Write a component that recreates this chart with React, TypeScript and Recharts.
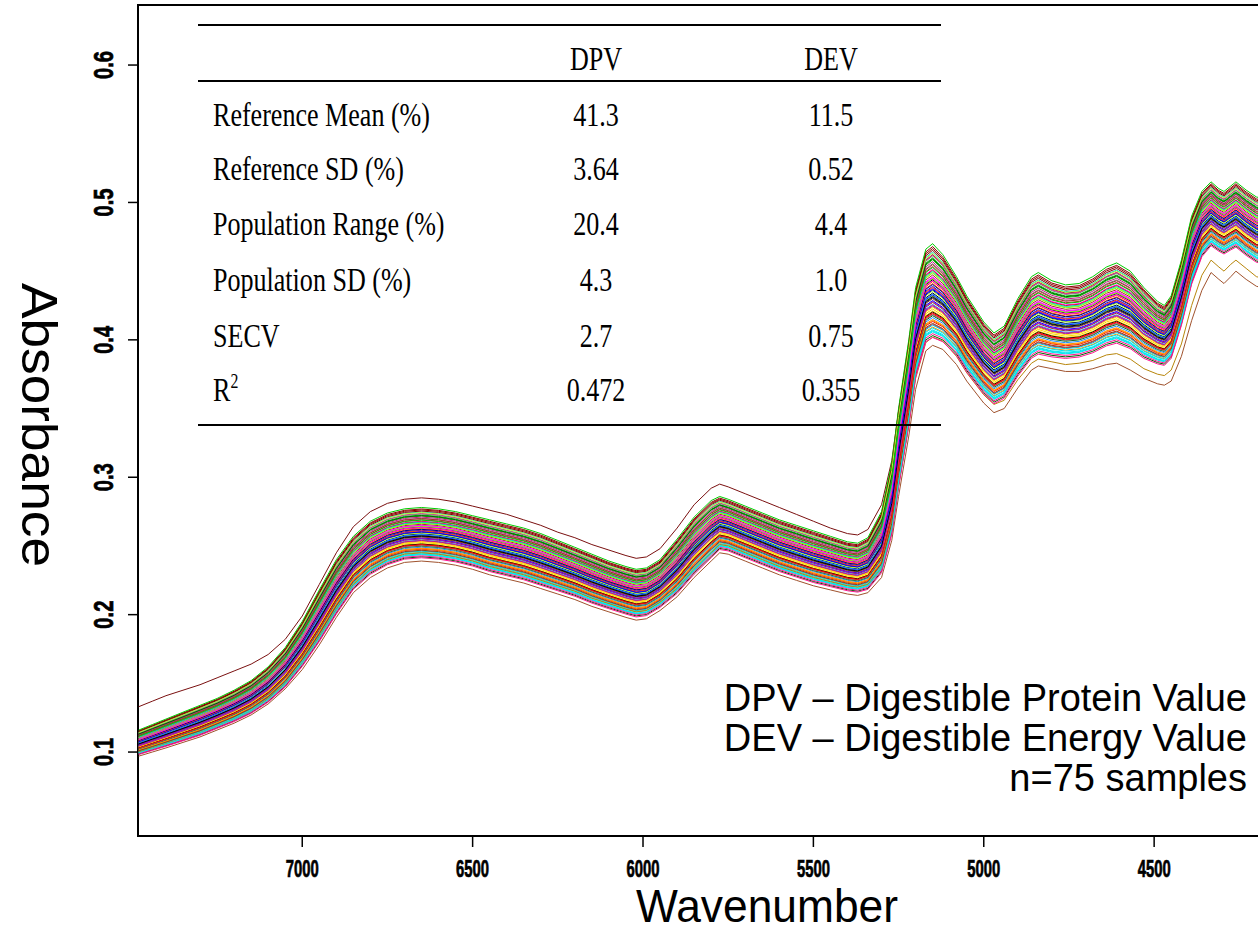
import React from "react";
import { LineChart, Line, XAxis, YAxis, ReferenceArea } from "recharts";

// Wavenumber grid (cm-1) shared by every spectrum
const wavenumbers = [
  7480, 7440, 7400, 7350, 7300, 7250, 7200, 7150, 7100, 7050,
  7000, 6950, 6900, 6850, 6800, 6750, 6700, 6650, 6600, 6550,
  6500, 6450, 6400, 6350, 6300, 6250, 6200, 6150, 6100, 6050,
  6020, 5990, 5950, 5900, 5850, 5800, 5775, 5750, 5700, 5650,
  5600, 5550, 5500, 5450, 5400, 5370, 5340, 5300, 5270, 5250,
  5220, 5200, 5170, 5150, 5120, 5080, 5050, 5000, 4970, 4940,
  4900, 4860, 4840, 4800, 4760, 4720, 4680, 4640, 4610, 4570,
  4530, 4490, 4470, 4450, 4420, 4390, 4360, 4333, 4310, 4295,
  4275, 4260, 4230, 4200, 4170,
];

// Upper edge of the main bundle of spectra
const bandTop = [
  0.116, 0.120, 0.124, 0.129, 0.134, 0.139, 0.145, 0.152, 0.162, 0.176,
  0.195, 0.218, 0.240, 0.257, 0.268, 0.274, 0.277, 0.278, 0.277, 0.275,
  0.272, 0.269, 0.266, 0.263, 0.259, 0.254, 0.249, 0.244, 0.239, 0.235,
  0.233, 0.234, 0.240, 0.255, 0.271, 0.283, 0.286, 0.284, 0.279, 0.274,
  0.269, 0.265, 0.261, 0.257, 0.253, 0.252, 0.256, 0.275, 0.310, 0.350,
  0.400, 0.438, 0.466, 0.470, 0.462, 0.446, 0.432, 0.413, 0.405, 0.410,
  0.430, 0.446, 0.449, 0.443, 0.440, 0.441, 0.446, 0.453, 0.456, 0.450,
  0.438, 0.428, 0.425, 0.432, 0.458, 0.490, 0.508, 0.515, 0.510, 0.508,
  0.512, 0.515, 0.509, 0.504, 0.502,
];

// Lower edge of the main bundle of spectra
const bandBottom = [
  0.098, 0.101, 0.104, 0.108, 0.112, 0.117, 0.122, 0.128, 0.136, 0.147,
  0.162, 0.180, 0.200, 0.218, 0.229, 0.236, 0.240, 0.241, 0.240, 0.238,
  0.235, 0.231, 0.228, 0.225, 0.221, 0.217, 0.213, 0.208, 0.204, 0.200,
  0.198, 0.199, 0.205, 0.215, 0.229, 0.241, 0.247, 0.246, 0.241, 0.236,
  0.231, 0.227, 0.223, 0.220, 0.217, 0.216, 0.218, 0.230, 0.258, 0.292,
  0.337, 0.372, 0.398, 0.401, 0.398, 0.388, 0.376, 0.360, 0.353, 0.357,
  0.373, 0.386, 0.389, 0.387, 0.386, 0.387, 0.390, 0.395, 0.397, 0.393,
  0.386, 0.382, 0.381, 0.386, 0.410, 0.440, 0.460, 0.468, 0.464, 0.462,
  0.465, 0.467, 0.461, 0.456, 0.454,
];

// Where each of the 72 regular samples sits inside the bundle (0 = lower edge, 1 = upper edge)
const bandPositions = [
  0.62, 0.18, 0.85, 0.40, 0.07, 0.73, 0.29, 0.95, 0.51, 0.12,
  0.67, 0.34, 0.88, 0.45, 0.22, 0.79, 0.03, 0.58, 0.38, 0.91,
  0.15, 0.70, 0.48, 0.26, 0.83, 0.55, 0.09, 0.64, 0.31, 0.97,
  0.43, 0.20, 0.76, 0.53, 0.05, 0.69, 0.36, 0.87, 0.24, 0.60,
  0.42, 0.14, 0.81, 0.50, 0.28, 0.72, 1.00, 0.46, 0.11, 0.65,
  0.33, 0.93, 0.57, 0.19, 0.78, 0.39, 0.01, 0.63, 0.47, 0.25,
  0.84, 0.54, 0.16, 0.71, 0.35, 0.90, 0.44, 0.27, 0.75, 0.52,
  0.08, 0.61,
];

// Sample lying above the bundle at the short-wavenumber end
const highSample = [
  0.133, 0.137, 0.141, 0.145, 0.149, 0.154, 0.159, 0.164, 0.171, 0.182,
  0.199, 0.222, 0.245, 0.264, 0.275, 0.281, 0.284, 0.285, 0.284, 0.282,
  0.279, 0.276, 0.273, 0.269, 0.265, 0.260, 0.256, 0.251, 0.247, 0.243,
  0.241, 0.242, 0.248, 0.263, 0.280, 0.292, 0.295, 0.293, 0.288, 0.283,
  0.278, 0.273, 0.268, 0.263, 0.259, 0.258, 0.262, 0.280, 0.312, 0.348,
  0.396, 0.432, 0.458, 0.462, 0.455, 0.440, 0.426, 0.407, 0.399, 0.404,
  0.423, 0.439, 0.442, 0.437, 0.434, 0.435, 0.440, 0.446, 0.449, 0.443,
  0.432, 0.422, 0.419, 0.426, 0.450, 0.481, 0.499, 0.506, 0.501, 0.499,
  0.503, 0.506, 0.500, 0.495, 0.493,
];

// Two samples dropping below the bundle past 5000 cm-1
const lowSampleA = [
  0.097, 0.100, 0.103, 0.107, 0.111, 0.116, 0.121, 0.127, 0.135, 0.146,
  0.160, 0.178, 0.198, 0.216, 0.227, 0.234, 0.238, 0.239, 0.238, 0.236,
  0.233, 0.229, 0.226, 0.223, 0.219, 0.215, 0.211, 0.206, 0.202, 0.198,
  0.196, 0.197, 0.203, 0.213, 0.227, 0.239, 0.245, 0.244, 0.239, 0.234,
  0.229, 0.225, 0.221, 0.218, 0.215, 0.214, 0.216, 0.227, 0.254, 0.286,
  0.330, 0.364, 0.392, 0.396, 0.393, 0.382, 0.370, 0.354, 0.347, 0.350,
  0.365, 0.378, 0.381, 0.379, 0.377, 0.377, 0.379, 0.382, 0.383, 0.378,
  0.372, 0.368, 0.367, 0.370, 0.388, 0.414, 0.436, 0.449, 0.444, 0.441,
  0.446, 0.450, 0.444, 0.439, 0.437,
];

const lowSampleB = [
  0.100, 0.103, 0.106, 0.110, 0.114, 0.119, 0.124, 0.130, 0.139, 0.150,
  0.165, 0.184, 0.204, 0.222, 0.233, 0.240, 0.244, 0.245, 0.244, 0.242,
  0.239, 0.235, 0.232, 0.229, 0.225, 0.221, 0.217, 0.212, 0.208, 0.204,
  0.202, 0.203, 0.209, 0.219, 0.233, 0.245, 0.251, 0.250, 0.245, 0.240,
  0.235, 0.231, 0.227, 0.224, 0.221, 0.220, 0.222, 0.234, 0.262, 0.295,
  0.338, 0.372, 0.398, 0.402, 0.399, 0.388, 0.376, 0.360, 0.353, 0.356,
  0.371, 0.383, 0.386, 0.384, 0.382, 0.383, 0.385, 0.389, 0.390, 0.386,
  0.379, 0.375, 0.374, 0.378, 0.397, 0.425, 0.447, 0.458, 0.453, 0.450,
  0.455, 0.458, 0.452, 0.446, 0.444,
];

const sampleColors = [
  "#000000", "#FF0000", "#00CD00", "#0000FF", "#00E5EE", "#FF00FF",
  "#FFD700", "#8B0000", "#000080", "#FF8C00", "#A52A2A", "#9400D3",
  "#FF1493", "#7CFC00", "#1E90FF", "#808080", "#006400", "#FF4500",
  "#8B4513", "#00CED1", "#C71585", "#ADFF2F",
];

const xTickValues = [7000, 6500, 6000, 5500, 5000, 4500];
const yTickValues = [0.1, 0.2, 0.3, 0.4, 0.5, 0.6];

const tableColumns = ["DPV", "DEV"];
const tableRowLabels = ["Reference Mean (%)", "Reference SD (%)", "Population Range (%)", "Population SD (%)", "SECV", "R2"];
const dpvStats = ["41.3", "3.64", "20.4", "4.3", "2.7", "0.472"];
const devStats = ["11.5", "0.52", "4.4", "1.0", "0.75", "0.355"];

const noteLines = ["DPV \u2013 Digestible Protein Value", "DEV \u2013 Digestible Energy Value", "n=75 samples"];

// Assemble the 75 spectra, with the three odd samples placed among the regular ones
const regularSpectra = bandPositions.map((p) =>
  bandBottom.map((b, k) => +(b + p * (bandTop[k] - b)).toFixed(4))
);
const spectra: { values: number[]; color: string }[] = [];
spectra.push({ values: highSample, color: "#7A1010" });
regularSpectra.forEach((vals, i) => {
  spectra.push({ values: vals, color: sampleColors[i % sampleColors.length] });
  if (i === 30) spectra.push({ values: lowSampleA, color: "#A0522D" });
  if (i === 55) spectra.push({ values: lowSampleB, color: "#B8860B" });
});

const chartData = wavenumbers.map((w, k) => {
  const row: Record<string, number> = { w };
  spectra.forEach((s, i) => {
    row[`s${i}`] = s.values[k];
  });
  return row;
});

const X_DOMAIN: [number, number] = [4160, 7482];
const Y_DOMAIN: [number, number] = [0.0389, 0.6437];

const XTick = (props: any) => {
  const { x, y, payload } = props;
  return (
    <text
      x={x}
      y={y + 28}
      textAnchor="middle"
      fontFamily="'Liberation Sans', Arial, sans-serif"
      fontWeight="bold"
      fontSize={23}
      textLength={33}
      lengthAdjust="spacingAndGlyphs"
      fill="#000"
      stroke="#000"
      strokeWidth={0.7}
    >
      {payload.value}
    </text>
  );
};

const YTick = (props: any) => {
  const { x, y, payload } = props;
  return (
    <text
      transform={`translate(${x - 13},${y}) rotate(-90)`}
      textAnchor="middle"
      fontFamily="'Liberation Sans', Arial, sans-serif"
      fontWeight="bold"
      fontSize={28}
      textLength={28}
      lengthAdjust="spacingAndGlyphs"
      fill="#000"
      stroke="#000"
      strokeWidth={0.7}
    >
      {Number(payload.value).toFixed(1)}
    </text>
  );
};

const serif = "'Liberation Serif', 'Times New Roman', serif";
const sans = "'Liberation Sans', Arial, sans-serif";

const TableText = ({ x, y, anchor, children }: { x: number; y: number; anchor: "start" | "middle"; children: React.ReactNode }) => (
  <g transform={`translate(${x},${y}) scale(0.79,1)`}>
    <text x={0} y={0} textAnchor={anchor} fontFamily={serif} fontSize={33} fill="#000">
      {children}
    </text>
  </g>
);

export default function App() {
  const rowBaselines = [126, 180, 235, 291, 347, 401];
  return (
    <div style={{ position: "fixed", left: 0, top: 0, width: 1258, height: 947, overflow: "hidden", background: "#fff" }}>
      <LineChart width={1300} height={947} data={chartData} margin={{ top: 5, right: 30, bottom: 51, left: 0 }}>
        <XAxis
          dataKey="w"
          type="number"
          domain={X_DOMAIN}
          reversed
          allowDataOverflow
          ticks={xTickValues}
          interval={0}
          height={60}
          axisLine={false}
          tickSize={11}
          tickLine={{ stroke: "#000", strokeWidth: 1.5 }}
          tick={<XTick />}
        />
        <YAxis
          type="number"
          domain={Y_DOMAIN}
          allowDataOverflow
          ticks={yTickValues}
          interval={0}
          width={138}
          axisLine={false}
          tickSize={10}
          tickLine={{ stroke: "#000", strokeWidth: 1.5 }}
          tick={<YTick />}
        />
        {spectra.map((s, i) => (
          <Line
            key={i}
            dataKey={`s${i}`}
            type="linear"
            stroke={s.color}
            strokeWidth={1}
            dot={false}
            activeDot={false}
            isAnimationActive={false}
          />
        ))}
        <ReferenceArea
          x1={X_DOMAIN[0]}
          x2={X_DOMAIN[1]}
          y1={Y_DOMAIN[0]}
          y2={Y_DOMAIN[1]}
          fill="none"
          fillOpacity={0}
          stroke="#000"
          strokeWidth={2}
          ifOverflow="visible"
        />
      </LineChart>
      <svg width={1258} height={947} style={{ position: "absolute", left: 0, top: 0, pointerEvents: "none" }}>
        {/* axis titles */}
        <text x={767} y={922} textAnchor="middle" fontFamily={sans} fontSize={46} textLength={262} lengthAdjust="spacingAndGlyphs" fill="#000">
          Wavenumber
        </text>
        <text transform="translate(22,425) rotate(90)" textAnchor="middle" fontFamily={sans} fontSize={50} textLength={284} lengthAdjust="spacingAndGlyphs" fill="#000">
          Absorbance
        </text>

        {/* statistics table */}
        <line x1={198} x2={941} y1={25} y2={25} stroke="#000" strokeWidth={2} />
        <line x1={198} x2={941} y1={81} y2={81} stroke="#000" strokeWidth={2} />
        <line x1={198} x2={941} y1={425} y2={425} stroke="#000" strokeWidth={2} />
        <TableText x={596} y={70} anchor="middle">{tableColumns[0]}</TableText>
        <TableText x={831} y={70} anchor="middle">{tableColumns[1]}</TableText>
        {tableRowLabels.map((label, i) => (
          <g key={label}>
            <TableText x={213} y={rowBaselines[i]} anchor="start">
              {label === "R2" ? (
                <>
                  R<tspan dy={-13} fontSize={20}>2</tspan>
                </>
              ) : (
                label
              )}
            </TableText>
            <TableText x={596} y={rowBaselines[i]} anchor="middle">{dpvStats[i]}</TableText>
            <TableText x={831} y={rowBaselines[i]} anchor="middle">{devStats[i]}</TableText>
          </g>
        ))}

        {/* notes */}
        {noteLines.map((line, i) => (
          <text key={line} x={1247} y={711 + i * 40} textAnchor="end" fontFamily={sans} fontSize={38} fill="#000">
            {line}
          </text>
        ))}
      </svg>
    </div>
  );
}
